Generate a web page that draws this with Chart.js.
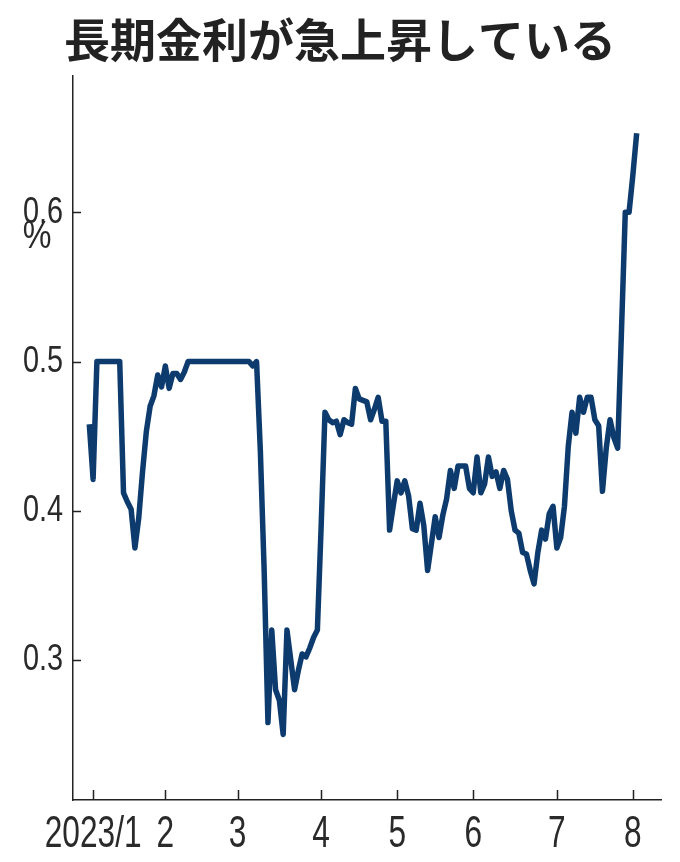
<!DOCTYPE html>
<html lang="ja">
<head>
<meta charset="utf-8">
<title>長期金利が急上昇している</title>
<script src="https://cdn.jsdelivr.net/npm/chart.js@4.4.0/dist/chart.umd.min.js"></script>
<style>
    html, body { margin: 0; padding: 0; background: #ffffff; }
    #chart-wrap { width: 680px; height: 862px; }
</style>
</head>
<body>
<div id="chart-wrap">
    <canvas id="yieldChart" width="680" height="862"></canvas>
</div>
<script>
// --- Data ---
// 10-year JGB yield (%), one value per trading day, from the last day of 2022 to early August 2023
const yields = [
    0.458, 0.421, 0.5, 0.5, 0.5, 0.5, 0.5, 0.5, 0.5, 0.412,
    0.406, 0.401, 0.375, 0.395, 0.426, 0.453, 0.47, 0.477, 0.491, 0.483,
    0.497, 0.482, 0.492, 0.492, 0.488, 0.493, 0.5, 0.5, 0.5, 0.5,
    0.5, 0.5, 0.5, 0.5, 0.5, 0.5, 0.5, 0.5, 0.5, 0.5,
    0.5, 0.5, 0.5, 0.497, 0.5, 0.44, 0.36, 0.258, 0.32, 0.28,
    0.273, 0.25, 0.32, 0.3, 0.28, 0.293, 0.304, 0.302, 0.308, 0.315,
    0.32, 0.39, 0.466, 0.461, 0.459, 0.46, 0.451, 0.461, 0.459, 0.458,
    0.482, 0.475, 0.474, 0.473, 0.461, 0.468, 0.476, 0.46, 0.46, 0.387,
    0.404, 0.42, 0.412, 0.42, 0.41, 0.388, 0.387, 0.405, 0.39, 0.36,
    0.378, 0.396, 0.382, 0.397, 0.408, 0.427, 0.415, 0.43, 0.43, 0.43,
    0.415, 0.412, 0.436, 0.412, 0.418, 0.436, 0.423, 0.426, 0.415, 0.427,
    0.421, 0.4, 0.387, 0.385, 0.372, 0.371, 0.36, 0.351, 0.372, 0.387,
    0.381, 0.398, 0.403, 0.375, 0.382, 0.403, 0.443, 0.466, 0.452, 0.476,
    0.466, 0.476, 0.476, 0.461, 0.457, 0.413, 0.442, 0.461, 0.449, 0.442,
    0.52, 0.6, 0.6, 0.625, 0.653
];

// Index of the first trading day of each month, and its label
const monthTickIndex = [1, 20, 39, 61, 81, 101, 123, 143];
const monthLabels = ['2023/1', '2', '3', '4', '5', '6', '7', '8'];

// Y axis ticks
const yTickValues = [0.3, 0.4, 0.5, 0.6];
const yTickLabels = ['0.3', '0.4', '0.5', '0.6'];

document.addEventListener('DOMContentLoaded', () => {
    const canvas = document.getElementById('yieldChart');
    const ctx = canvas.getContext('2d');

    const labelFont = "'Liberation Sans', Arial, sans-serif";
    const inkColor = '#222222';
    const labelColor = '#2a2a2a';

    // draw text squeezed horizontally (the source uses a narrow face)
    function narrowText(c, text, x, y, sx) {
        c.save();
        c.translate(x, y);
        c.scale(sx, 1);
        c.fillText(text, 0, 0);
        c.restore();
    }

    // --- Title, tick marks inside the plot, tick labels and % unit ---
    const decorations = {
        id: 'decorations',
        afterDraw(chart) {
            const c = chart.ctx;
            const x = chart.scales.x;
            const y = chart.scales.y;
            const area = chart.chartArea;
            c.save();

            // title
            c.fillStyle = inkColor;
            c.font = "bold 46px 'Noto Sans CJK JP', sans-serif";
            c.textAlign = 'center';
            c.textBaseline = 'middle';
            c.fillText('長期金利が急上昇している', 340, 40);

            // tick marks
            c.strokeStyle = inkColor;
            c.lineWidth = 1.5;
            c.beginPath();
            yTickValues.forEach(v => {
                const py = Math.round(y.getPixelForValue(v)) + 0.5;
                c.moveTo(area.left, py);
                c.lineTo(area.left + 8, py);
            });
            monthTickIndex.forEach(i => {
                const px = Math.round(x.getPixelForValue(i)) + 0.5;
                c.moveTo(px, area.bottom);
                c.lineTo(px, area.bottom - 10);
            });
            c.stroke();

            // y tick labels
            c.fillStyle = labelColor;
            c.font = '37px ' + labelFont;
            c.textAlign = 'right';
            c.textBaseline = 'middle';
            yTickValues.forEach((v, k) => {
                narrowText(c, yTickLabels[k], area.left - 10, y.getPixelForValue(v), 0.78);
            });

            // x tick labels
            c.font = '44px ' + labelFont;
            c.textAlign = 'center';
            c.textBaseline = 'alphabetic';
            monthTickIndex.forEach((i, k) => {
                narrowText(c, monthLabels[k], x.getPixelForValue(i), area.bottom + 47, 0.72);
            });

            // unit label under the top tick
            c.font = '38px ' + labelFont;
            c.textAlign = 'center';
            c.textBaseline = 'middle';
            narrowText(c, '%', 37, 238, 0.85);
            c.restore();
        }
    };

    new Chart(ctx, {
        type: 'line',
        data: {
            datasets: [{
                label: '長期金利',
                data: yields.map((v, i) => ({ x: i, y: v })),
                borderColor: '#0d3b6e',
                borderWidth: 5.5,
                borderJoinStyle: 'round',
                pointRadius: 0,
                tension: 0,
                fill: false
            }]
        },
        options: {
            responsive: false,
            animation: false,
            layout: {
                padding: { left: 0, right: 19, top: 76, bottom: 0 }
            },
            scales: {
                x: {
                    type: 'linear',
                    min: -4.29,
                    max: 150.4,
                    afterBuildTicks: scale => {
                        scale.ticks = monthTickIndex.map(v => ({ value: v }));
                    },
                    afterFit: scale => {
                        scale.height = 62;
                    },
                    ticks: { display: false },
                    grid: { display: false, drawTicks: false },
                    border: { display: true, color: inkColor, width: 1.5 }
                },
                y: {
                    min: 0.2061,
                    max: 0.6914,
                    afterBuildTicks: scale => {
                        scale.ticks = yTickValues.map(v => ({ value: v }));
                    },
                    afterFit: scale => {
                        scale.width = 73;
                    },
                    ticks: { display: false },
                    grid: { display: false, drawTicks: false },
                    border: { display: true, color: inkColor, width: 1.5 }
                }
            },
            plugins: {
                legend: { display: false },
                tooltip: { enabled: false },
                title: { display: false }
            }
        },
        plugins: [decorations]
    });
});
</script>
</body>
</html>
